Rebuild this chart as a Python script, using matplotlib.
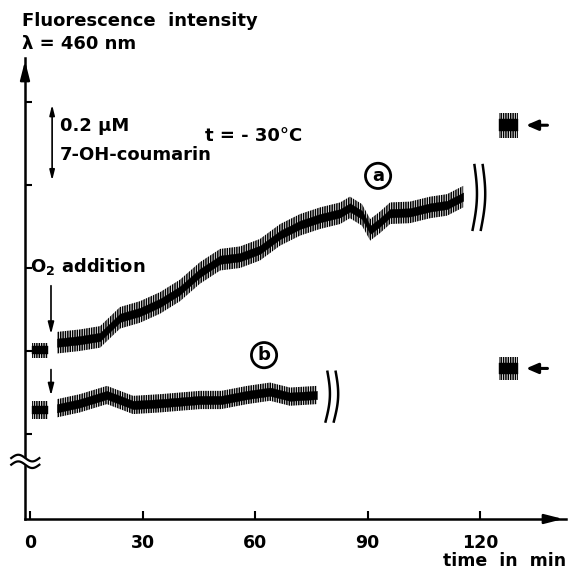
import numpy as np
import matplotlib.pyplot as plt

plt.rcParams['font.family'] = ['DejaVu Sans']
plt.rcParams['font.weight'] = 'bold'
plt.rcParams['mathtext.fontset'] = 'dejavusans'
plt.rcParams['hatch.linewidth'] = 1.1

# trace a (time in min, signal in tick units), before and after O2 addition
a_pre_t = [0.5, 4.8]
a_pre_v = [2.01, 2.01]
a_t = [7.2, 13.3, 18.7, 24, 29.3, 34.7, 40, 45.3, 50.7, 56, 61.3, 66.7, 72,
       77.3, 82.7, 85.3, 88.5, 90.7, 93.3, 96, 101.3, 106.7, 111.2, 115.5]
a_v = [2.10, 2.13, 2.17, 2.40, 2.47, 2.58, 2.73, 2.94, 3.10, 3.13, 3.22, 3.40, 3.52,
       3.60, 3.66, 3.73, 3.64, 3.46, 3.55, 3.66, 3.67, 3.73, 3.76, 3.86]

# trace b
b_pre_t = [0.5, 4.8]
b_pre_v = [1.29, 1.29]
b_t = [7.2, 13.3, 20.5, 27.5, 34.7, 40, 45.3, 51, 57.9, 64, 69.3, 76.5]
b_v = [1.31, 1.37, 1.47, 1.35, 1.37, 1.39, 1.41, 1.41, 1.47, 1.51, 1.45, 1.47]

# reference readings at the right edge
ref_t = [125, 130]
ref_a = [4.72, 4.72]
ref_b = [1.79, 1.79]

xticks = [0, 30, 60, 90, 120]
yticks = [1, 2, 3, 4, 5]

fig = plt.figure(figsize=(5.7, 5.72), dpi=100)
ax = fig.add_axes([25 / 570, 53 / 572, 541 / 570, 461 / 572])
ax.set_xlim(-1.33, 142.9)
ax.set_ylim(-0.024, 5.53)

for s in ['top', 'right']:
    ax.spines[s].set_visible(False)
ax.spines['left'].set_linewidth(1.8)
ax.spines['bottom'].set_linewidth(1.8)

ax.set_xticks(xticks)
ax.set_xticklabels([str(x) for x in xticks], fontsize=12.5, fontweight='bold')
ax.set_yticks(yticks)
ax.set_yticklabels([])
ax.tick_params(axis='x', direction='in', length=6, width=1.5, pad=11)
ax.tick_params(axis='y', direction='in', length=5, width=1.5)

# axis arrow heads
ax.annotate('', xy=(1, 0), xycoords='axes fraction', xytext=(0.96, 0),
            arrowprops=dict(arrowstyle='-|>,head_length=1.1,head_width=0.28', color='black', lw=1.8))
ax.annotate('', xy=(0, 1), xycoords='axes fraction', xytext=(0, 0.96),
            arrowprops=dict(arrowstyle='-|>,head_length=1.1,head_width=0.28', color='black', lw=1.8))

# break on y axis
s = np.linspace(0, 1, 40)
bx = -5.0 + 7.5 * s
wave = 0.04 * np.sin(2 * np.pi * s)
ax.fill_between(bx, 0.63 + wave, 0.71 + wave, color='white', zorder=4, clip_on=False)
ax.plot(bx, 0.63 + wave, color='black', lw=1.6, zorder=5, clip_on=False)
ax.plot(bx, 0.71 + wave, color='black', lw=1.6, zorder=5, clip_on=False)


def trace(t, v, core, spike):
    t = np.array(t)
    v = np.array(v)
    ax.fill_between(t, v - spike, v + spike, facecolor='none', edgecolor='black',
                    hatch='|||||||', linewidth=0)
    ax.fill_between(t, v - core, v + core, facecolor='black', edgecolor='black', linewidth=0.3)


trace(a_pre_t, a_pre_v, 0.05, 0.09)
trace(a_t, a_v, 0.05, 0.13)
trace(b_pre_t, b_pre_v, 0.05, 0.11)
trace(b_t, b_v, 0.05, 0.11)
trace(ref_t, ref_a, 0.07, 0.15)
trace(ref_t, ref_b, 0.07, 0.14)

# break marks after the traces
s = np.linspace(0, 1, 30)
for t0, v0, h in [(118.5, 3.85, 0.78), (79.3, 1.45, 0.6)]:
    for dx in [0, 2.2]:
        ax.plot(t0 + dx + 0.9 * np.sin(np.pi * s) - 0.5 * s, v0 + h / 2 - h * s, color='black', lw=1.8)

# arrows pointing at the reference readings
for v in [ref_a[0], ref_b[0]]:
    ax.annotate('', xy=(131.5, v), xytext=(138.7, v),
                arrowprops=dict(arrowstyle='-|>,head_length=0.7,head_width=0.3', color='black', lw=2.2))

# concentration bar
ax.annotate('', xy=(5.9, 5.0), xytext=(5.9, 4.02),
            arrowprops=dict(arrowstyle='<|-|>,head_length=0.6,head_width=0.15', color='black', lw=1.2))
ax.text(8, 4.71, '0.2 µM', fontsize=13, fontweight='bold', va='center')
ax.text(8, 4.36, '7-OH-coumarin', fontsize=13, fontweight='bold', va='center')
ax.text(46.7, 4.59, 't = - 30\u00b0C', fontsize=13, fontweight='bold', va='center')

# O2 addition
ax.text(0, 3.02, 'O$_\\mathbf{2}$ addition', fontsize=13, fontweight='bold', va='center')
ax.annotate('', xy=(5.6, 2.17), xytext=(5.6, 2.82),
            arrowprops=dict(arrowstyle='-|>,head_length=0.7,head_width=0.18', color='black', lw=1.2))
ax.annotate('', xy=(5.6, 1.43), xytext=(5.6, 1.81),
            arrowprops=dict(arrowstyle='-|>,head_length=0.7,head_width=0.18', color='black', lw=1.2))

# circled labels
ax.text(92.8, 4.11, 'a', fontsize=13, fontweight='bold', ha='center', va='center',
        bbox=dict(boxstyle='circle,pad=0.2', fc='white', ec='black', lw=2))
ax.text(62.4, 1.95, 'b', fontsize=13, fontweight='bold', ha='center', va='center',
        bbox=dict(boxstyle='circle,pad=0.2', fc='white', ec='black', lw=2))

# titles and axis label
ax.text(-2.1, 5.98, 'Fluorescence  intensity', fontsize=13, fontweight='bold', va='center', clip_on=False)
ax.text(-2.1, 5.70, '\u03bb = 460 nm', fontsize=13, fontweight='bold', va='center', clip_on=False)
ax.text(142.9, -0.53, 'time  in  min', fontsize=12.5, fontweight='bold', ha='right', va='center', clip_on=False)

fig.savefig('out.png', dpi=100)
